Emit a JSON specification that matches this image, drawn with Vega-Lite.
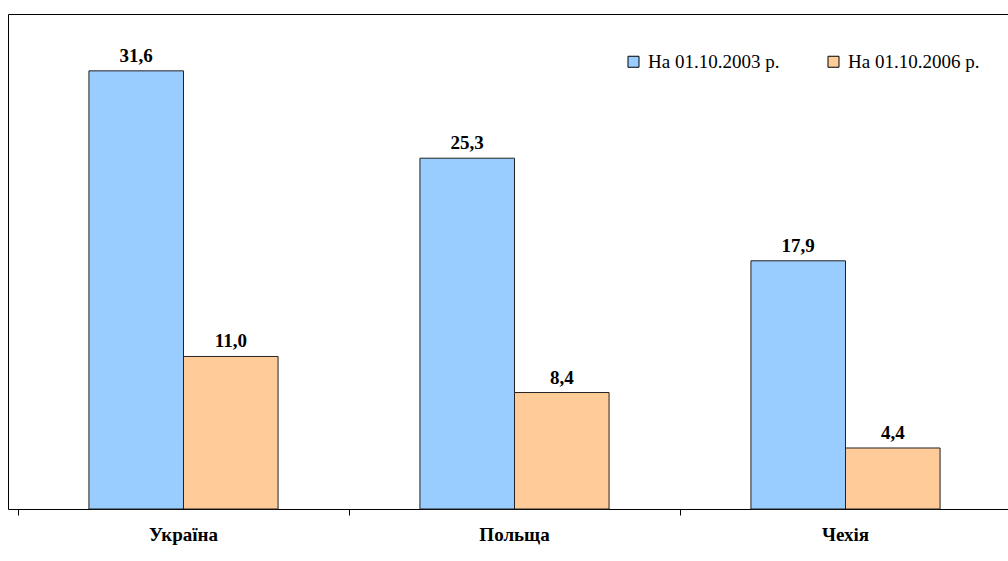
{
  "$schema": "https://vega.github.io/schema/vega-lite/v6.json",
  "width": 1003,
  "height": 495,
  "autosize": {"type": "none"},
  "padding": {"left": 8, "top": 14, "right": 0, "bottom": 52},
  "background": "white",
  "config": {
    "view": {"stroke": "#000000", "strokeWidth": 1},
    "font": "Liberation Serif"
  },
  "data": {
    "values": [
      {"country": "Україна", "date": "На 01.10.2003 р.", "value": 31.6, "label": "31,6"},
      {"country": "Україна", "date": "На 01.10.2006 р.", "value": 11.0, "label": "11,0"},
      {"country": "Польща", "date": "На 01.10.2003 р.", "value": 25.3, "label": "25,3"},
      {"country": "Польща", "date": "На 01.10.2006 р.", "value": 8.4, "label": "8,4"},
      {"country": "Чехія", "date": "На 01.10.2003 р.", "value": 17.9, "label": "17,9"},
      {"country": "Чехія", "date": "На 01.10.2006 р.", "value": 4.4, "label": "4,4"}
    ]
  },
  "encoding": {
    "x": {
      "field": "country",
      "type": "nominal",
      "sort": ["Україна", "Польща", "Чехія"],
      "scale": {"range": [10, 1003], "paddingInner": 0, "paddingOuter": 0},
      "axis": {
        "title": null,
        "bandPosition": 0,
        "labelAngle": 0,
        "labelFont": "Liberation Serif",
        "labelFontSize": 19,
        "labelFontWeight": "bold",
        "labelColor": "#000000",
        "labelPadding": 10,
        "labelBaseline": "top",
        "domainColor": "#000000",
        "tickColor": "#000000",
        "tickSize": 6,
        "grid": false
      }
    },
    "xOffset": {
      "field": "date",
      "type": "nominal",
      "scale": {"paddingOuter": 0.75, "paddingInner": 0}
    },
    "y": {
      "field": "value",
      "type": "quantitative",
      "scale": {"domain": [0, 35.7], "nice": false},
      "axis": null
    }
  },
  "layer": [
    {
      "mark": {"type": "bar", "stroke": "#222222", "strokeWidth": 1},
      "encoding": {
        "color": {
          "field": "date",
          "type": "nominal",
          "scale": {"range": ["#99CCFF", "#FFCC99"]},
          "legend": {
            "title": null,
            "orient": "none",
            "legendX": 616,
            "legendY": 38,
            "direction": "horizontal",
            "columns": 2,
            "symbolType": "square",
            "symbolSize": 121,
            "symbolStrokeColor": "#000000",
            "symbolStrokeWidth": 1,
            "labelFont": "Liberation Serif",
            "labelFontSize": 19,
            "labelColor": "#000000",
            "labelLimit": 250,
            "labelOffset": 5,
            "columnPadding": 44,
            "symbolOffset": 0
          }
        }
      }
    },
    {
      "mark": {"type": "text", "dy": -9, "baseline": "alphabetic", "font": "Liberation Serif", "fontSize": 19, "fontWeight": "bold", "color": "#000000"},
      "encoding": {
        "text": {"field": "label"}
      }
    }
  ]
}
